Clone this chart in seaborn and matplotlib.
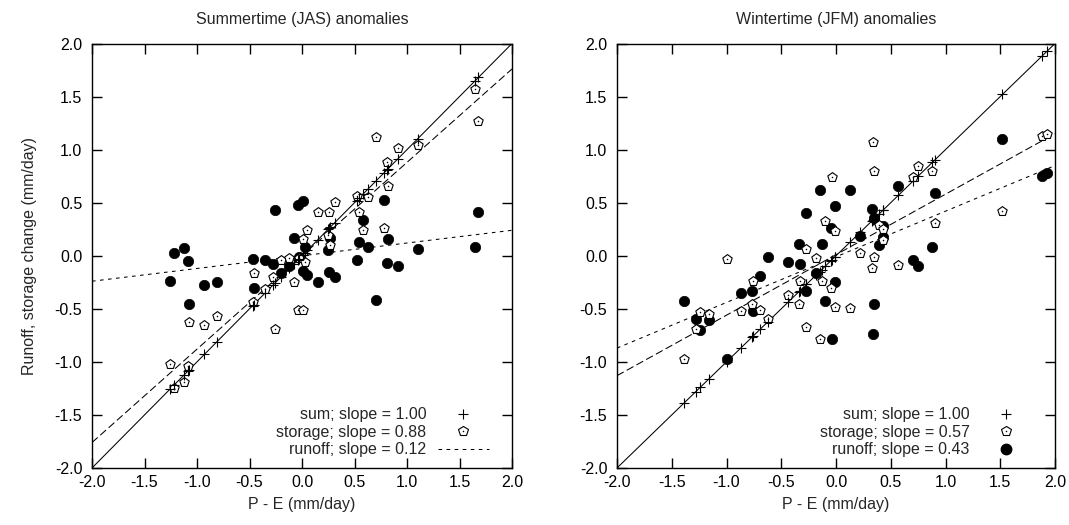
import numpy as np
import pandas as pd
import matplotlib
matplotlib.use("Agg")
import matplotlib.pyplot as plt
import seaborn as sns
from matplotlib.lines import Line2D

# ---------------- data ----------------
# Summertime (JAS)
pe_jas = [-1.26, -1.22, -1.12, -1.09, -1.08, -0.93, -0.81, -0.47, -0.46, -0.35,
          -0.28, -0.26, -0.20, -0.12, -0.08, -0.04, -0.03, 0.01, 0.01, 0.03,
          0.05, 0.15, 0.25, 0.26, 0.27, 0.31, 0.52, 0.54, 0.58, 0.63,
          0.70, 0.78, 0.81, 0.82, 0.91, 1.10, 1.65, 1.68]
storage_jas = [-1.02, -1.25, -1.19, -1.04, -0.62, -0.65, -0.57, -0.44, -0.16, -0.31,
               -0.20, -0.69, -0.04, -0.02, -0.25, -0.51, -0.02, 0.16, -0.51, -0.06,
               0.24, 0.41, 0.20, 0.41, 0.10, 0.51, 0.56, 0.41, 0.24, 0.55,
               1.12, 0.26, 0.88, 0.66, 1.02, 1.04, 1.57, 1.27]
runoff_jas = [-0.24, 0.03, 0.07, -0.05, -0.45, -0.28, -0.25, -0.03, -0.30, -0.04,
              -0.08, 0.43, -0.16, -0.10, 0.17, 0.48, -0.01, -0.14, 0.52, 0.08,
              -0.18, -0.25, 0.05, -0.15, 0.17, -0.20, -0.04, 0.13, 0.34, 0.08,
              -0.42, 0.53, -0.07, 0.16, -0.10, 0.06, 0.08, 0.41]
sum_jas = list(pe_jas)

# Wintertime (JFM)
pe_jfm = [-1.39, -1.28, -1.24, -1.16, -1.00, -0.87, -0.77, -0.76, -0.69, -0.62,
          -0.44, -0.34, -0.33, -0.27, -0.27, -0.18, -0.15, -0.13, -0.10, -0.05,
          -0.04, -0.01, -0.01, 0.13, 0.22, 0.33, 0.35, 0.34, 0.35, 0.39,
          0.43, 0.43, 0.57, 0.70, 0.75, 0.88, 0.90, 1.52, 1.88, 1.93]
storage_jfm = [-0.97, -0.69, -0.53, -0.55, -0.03, -0.52, -0.45, -0.24, -0.51, -0.60,
               -0.37, -0.45, -0.24, -0.67, 0.06, -0.02, -0.78, -0.24, 0.33, -0.30,
               0.74, -0.48, 0.23, -0.49, 0.03, -0.12, 0.80, 1.07, -0.01, 0.29,
               0.15, 0.25, -0.09, 0.74, 0.85, 0.80, 0.31, 0.42, 1.13, 1.15]
runoff_jfm = [-0.43, -0.60, -0.70, -0.61, -0.97, -0.35, -0.33, -0.52, -0.19, -0.01,
              -0.06, 0.11, -0.08, 0.40, -0.33, -0.16, 0.62, 0.11, -0.43, 0.26,
              -0.78, 0.47, -0.25, 0.62, 0.19, 0.44, -0.45, -0.74, 0.36, 0.10,
              0.28, 0.18, 0.66, -0.04, -0.10, 0.08, 0.59, 1.10, 0.75, 0.78]
sum_jfm = list(pe_jfm)

# fitted lines: sum, storage, runoff
slopes_jas = [1.00, 0.88, 0.12]
intercepts_jas = [0.0, 0.0, 0.0]
slopes_jfm = [1.00, 0.57, 0.43]
intercepts_jfm = [0.0, 0.01, -0.01]

axis_range = [-2.0, 2.0]
tick_values = [-2.0, -1.5, -1.0, -0.5, 0.0, 0.5, 1.0, 1.5, 2.0]
tick_labels = ["-2.0", "-1.5", "-1.0", "-0.5", "0.0", "0.5", "1.0", "1.5", "2.0"]

titles = ["Summertime (JAS) anomalies", "Wintertime (JFM) anomalies"]
xlabel = "P - E (mm/day)"
ylabel = "Runoff, storage change (mm/day)"
legend_jas = ["sum; slope = 1.00", "storage; slope = 0.88", "runoff; slope = 0.12"]
legend_jfm = ["sum; slope = 1.00", "storage; slope = 0.57", "runoff; slope = 0.43"]

# ---------------- style ----------------
sns.set_style("ticks")
plt.rcParams["font.family"] = ["Liberation Sans", "DejaVu Sans"]
plt.rcParams["axes.unicode_minus"] = False
plt.rcParams["lines.scale_dashes"] = False
FS = 11.5

LONG = (0, (5.5, 2.5))
SHORT = (0, (2.6, 3.2))
line_styles = ["-", LONG, SHORT]

W, H = 1069, 525
fig = plt.figure(figsize=(W / 100, H / 100), dpi=100)
ax1 = fig.add_axes([92 / W, 57 / H, 420 / W, 424.5 / H])
ax2 = fig.add_axes([617 / W, 57 / H, 438 / W, 424.5 / H])

MS_CIRC = 56
MS_PENT = 50
MS_PLUS = 46


def draw_panel(ax, pe, storage, runoff, sums, slopes, icpts, title, labels,
               runoff_line_key, width_px, show_ylabel):
    df = pd.DataFrame({"pe": pe, "storage": storage, "runoff": runoff, "sum": sums})
    xl = np.array(axis_range)
    for s, b, ls in zip(slopes, icpts, line_styles):
        ax.plot(xl, s * xl + b, color="black", lw=0.75, ls=ls, zorder=2)
    sns.scatterplot(data=df, x="pe", y="runoff", ax=ax, marker="o", s=MS_CIRC,
                    color="black", edgecolor="black", linewidth=0.5, zorder=3,
                    legend=False)
    sns.scatterplot(data=df, x="pe", y="storage", ax=ax, marker="p", s=MS_PENT,
                    facecolor="white", edgecolor="black", linewidth=0.8, zorder=4,
                    legend=False)
    sns.scatterplot(data=df, x="pe", y="storage", ax=ax, marker="o", s=1.2,
                    color="black", linewidth=0, zorder=5, legend=False)
    sns.scatterplot(data=df, x="pe", y="sum", ax=ax, marker="+", s=MS_PLUS,
                    color="black", linewidth=0.8, zorder=6, legend=False)

    ax.set_xlim(axis_range)
    ax.set_ylim(axis_range)
    ax.set_xticks(tick_values)
    ax.set_xticklabels(tick_labels)
    ax.set_yticks(tick_values)
    ax.set_yticklabels(tick_labels)
    ax.tick_params(axis="both", direction="in", length=7.2, width=1.0,
                   top=True, right=True, labelsize=FS, colors="black")
    ax.tick_params(axis="x", pad=5)
    ax.tick_params(axis="y", pad=7)
    for sp in ax.spines.values():
        sp.set_visible(True)
        sp.set_linewidth(1.0)
        sp.set_color("black")

    ax.set_title(title, fontsize=FS, pad=14)
    ax.set_xlabel(xlabel, fontsize=FS)
    ax.xaxis.set_label_coords(0.5, -0.068)
    if show_ylabel:
        ax.set_ylabel(ylabel, fontsize=FS)
        ax.yaxis.set_label_coords(-55 / width_px, 0.5)
    else:
        ax.set_ylabel("")

    h_sum = Line2D([], [], marker="+", ls="none", color="black", ms=6.8, mew=0.8)
    h_pent = (Line2D([], [], marker="p", ls="none", mfc="white", mec="black",
                     ms=7.1, mew=0.8),
              Line2D([], [], marker="o", ls="none", color="black", ms=1.1, mew=0))
    if runoff_line_key:
        h_run = Line2D([], [], color="black", lw=0.75, ls=SHORT)
    else:
        h_run = Line2D([], [], marker="o", ls="none", color="black", ms=7.5)
    ax.legend([h_sum, h_pent, h_run], labels, markerfirst=False,
              frameon=False, loc="lower right", fontsize=FS,
              handlelength=3.2, handletextpad=0.72, labelspacing=0.16,
              borderpad=0, borderaxespad=0,
              bbox_to_anchor=(1 - 23 / width_px, 0.025))


draw_panel(ax1, pe_jas, storage_jas, runoff_jas, sum_jas, slopes_jas, intercepts_jas,
           titles[0], legend_jas, True, 420, True)
draw_panel(ax2, pe_jfm, storage_jfm, runoff_jfm, sum_jfm, slopes_jfm, intercepts_jfm,
           titles[1], legend_jfm, False, 438, False)

fig.savefig("out.png", dpi=100)
